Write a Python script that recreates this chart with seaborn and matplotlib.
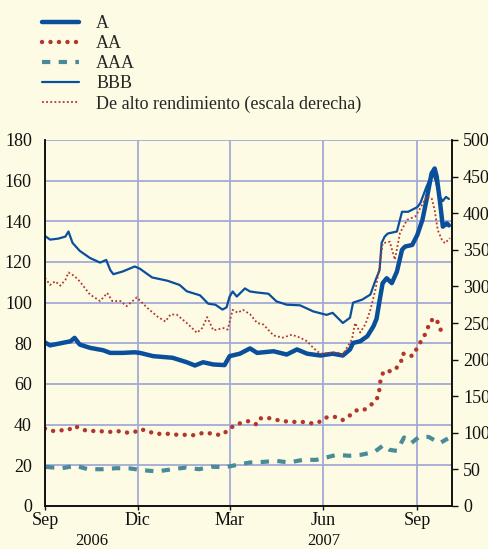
import matplotlib
matplotlib.use("Agg")
import matplotlib.pyplot as plt
from matplotlib.lines import Line2D
import pandas as pd
import seaborn as sns

# ---------------- data ----------------
a_dates = ["2006-09-01", "2006-09-06", "2006-09-16", "2006-09-26", "2006-09-30", "2006-10-05",
           "2006-10-15", "2006-10-28", "2006-11-04", "2006-11-16", "2006-11-28", "2006-12-03",
           "2006-12-16", "2007-01-04", "2007-01-18", "2007-01-26", "2007-02-03", "2007-02-13",
           "2007-02-24", "2007-03-01", "2007-03-11", "2007-03-21", "2007-03-28", "2007-04-13",
           "2007-04-26", "2007-05-06", "2007-05-16", "2007-05-29", "2007-06-10", "2007-06-20",
           "2007-06-27", "2007-06-30", "2007-07-07", "2007-07-14", "2007-07-20", "2007-07-23",
           "2007-07-26", "2007-07-29", "2007-08-02", "2007-08-07", "2007-08-12", "2007-08-17",
           "2007-08-20", "2007-08-27", "2007-09-01", "2007-09-06", "2007-09-10", "2007-09-15",
           "2007-09-18", "2007-09-20", "2007-09-23", "2007-09-26", "2007-09-30", "2007-10-02"]
a_vals = [80.4, 79.0, 80.0, 81.0, 82.7, 79.4,
          77.8, 76.6, 75.3, 75.3, 75.6, 75.3,
          73.7, 72.9, 70.7, 69.1, 70.7, 69.6,
          69.3, 73.7, 74.9, 77.5, 75.3, 76.1,
          74.5, 77.0, 74.9, 74.0, 74.9, 74.0,
          77.0, 80.2, 81.0, 83.5, 88.4, 92.0,
          101.0, 109.6, 112.0, 109.6, 115.3, 126.0,
          127.6, 128.4, 133.3, 140.7, 150.5, 163.6,
          166.0, 162.0, 150.5, 137.4, 139.0, 138.0]

bbb_dates = ["2006-09-01", "2006-09-06", "2006-09-14", "2006-09-21", "2006-09-24", "2006-09-28",
             "2006-10-05", "2006-10-15", "2006-10-25", "2006-10-31", "2006-11-04", "2006-11-07",
             "2006-11-16", "2006-11-28", "2006-12-03", "2006-12-15", "2006-12-30", "2007-01-11",
             "2007-01-18", "2007-01-31", "2007-02-08", "2007-02-15", "2007-02-22", "2007-02-26",
             "2007-03-01", "2007-03-04", "2007-03-08", "2007-03-16", "2007-03-21", "2007-03-28",
             "2007-04-08", "2007-04-16", "2007-04-26", "2007-05-09", "2007-05-22", "2007-06-04",
             "2007-06-10", "2007-06-20", "2007-06-27", "2007-06-30", "2007-07-09", "2007-07-17",
             "2007-07-22", "2007-07-26", "2007-07-28", "2007-07-31", "2007-08-03", "2007-08-12",
             "2007-08-17", "2007-08-23", "2007-09-01", "2007-09-04", "2007-09-10", "2007-09-16",
             "2007-09-19", "2007-09-23", "2007-09-26", "2007-09-29", "2007-10-02"]
bbb_vals = [132.8, 131.0, 131.5, 132.5, 135.0, 129.4,
            125.5, 122.0, 119.7, 121.0, 116.0, 114.0,
            115.3, 117.8, 116.7, 112.4, 110.8, 108.7,
            105.6, 103.6, 99.5, 99.0, 96.6, 97.7,
            103.0, 105.5, 103.0, 107.0, 105.5, 105.0,
            104.4, 100.6, 99.0, 98.7, 95.7, 94.0,
            95.0, 90.0, 92.6, 100.0, 101.5, 104.0,
            111.0, 116.0, 129.4, 132.5, 134.0, 135.0,
            144.7, 144.7, 147.0, 149.0, 157.0, 164.0,
            160.0, 152.0, 150.0, 152.0, 151.0]

aa_dates = ["2006-09-01", "2006-09-08", "2006-09-16", "2006-09-24", "2006-09-30", "2006-10-07",
            "2006-10-13", "2006-10-22", "2006-10-30", "2006-11-06", "2006-11-13", "2006-11-20",
            "2006-11-28", "2006-12-02", "2006-12-10", "2006-12-17", "2006-12-26", "2007-01-02",
            "2007-01-09", "2007-01-17", "2007-01-24", "2007-01-30", "2007-02-07", "2007-02-14",
            "2007-02-22", "2007-02-27", "2007-03-06", "2007-03-13", "2007-03-20", "2007-03-27",
            "2007-03-30", "2007-04-06", "2007-04-14", "2007-04-21", "2007-04-28", "2007-05-06",
            "2007-05-12", "2007-05-20", "2007-05-27", "2007-06-01", "2007-06-06", "2007-06-14",
            "2007-06-20", "2007-06-27", "2007-07-03", "2007-07-10", "2007-07-16", "2007-07-21",
            "2007-07-25", "2007-07-26", "2007-07-27", "2007-07-30", "2007-08-03", "2007-08-08",
            "2007-08-11", "2007-08-16", "2007-08-17", "2007-08-22", "2007-08-27", "2007-08-31",
            "2007-09-04", "2007-09-08", "2007-09-11", "2007-09-14", "2007-09-20", "2007-09-22",
            "2007-09-26", "2007-09-30"]
aa_vals = [38.1, 36.9, 37.2, 37.4, 39.4, 37.7,
           36.9, 36.9, 36.6, 36.4, 36.8, 36.1,
           36.4, 37.7, 37.2, 35.5, 35.5, 35.5,
           35.0, 35.0, 34.8, 35.6, 36.1, 35.1,
           35.0, 37.2, 39.8, 41.0, 41.8, 40.2,
           43.0, 43.5, 42.6, 41.8, 41.5, 41.3,
           41.3, 40.7, 41.0, 43.1, 43.8, 43.8,
           42.3, 44.6, 47.0, 47.0, 49.2, 51.1,
           54.1, 58.2, 62.3, 66.3, 66.3, 66.3,
           67.6, 70.4, 74.8, 75.0, 73.7, 77.0,
           80.5, 83.8, 87.3, 91.2, 92.2, 88.1,
           85.1, 85.6]

aaa_dates = ["2006-09-02", "2006-09-18", "2006-10-01", "2006-10-13", "2006-10-27", "2006-11-10",
             "2006-11-23", "2006-12-06", "2006-12-20", "2007-01-04", "2007-01-17", "2007-01-30",
             "2007-02-11", "2007-02-25", "2007-03-08", "2007-03-21", "2007-04-03", "2007-04-16",
             "2007-04-28", "2007-05-12", "2007-05-25", "2007-06-08", "2007-06-14", "2007-06-26",
             "2007-07-08", "2007-07-21", "2007-07-30", "2007-08-05", "2007-08-12", "2007-08-19",
             "2007-08-26", "2007-09-02", "2007-09-12", "2007-09-23", "2007-10-01"]
aaa_vals = [19.2, 18.6, 19.8, 18.1, 18.1, 18.6,
            18.5, 17.6, 17.0, 18.1, 18.9, 18.1,
            19.3, 19.1, 20.2, 21.4, 21.7, 22.2,
            21.4, 22.7, 22.7, 24.4, 25.2, 24.7,
            25.2, 26.6, 30.0, 27.6, 27.1, 33.7,
            30.9, 33.7, 34.0, 30.9, 33.2]

hy_dates = ["2006-09-01", "2006-09-06", "2006-09-11", "2006-09-16", "2006-09-21", "2006-09-24",
            "2006-09-30", "2006-10-05", "2006-10-15", "2006-10-25", "2006-11-01", "2006-11-06",
            "2006-11-14", "2006-11-20", "2006-11-30", "2006-12-10", "2006-12-20", "2006-12-28",
            "2007-01-02", "2007-01-08", "2007-01-18", "2007-01-28", "2007-02-02", "2007-02-07",
            "2007-02-13", "2007-02-23", "2007-02-27", "2007-03-04", "2007-03-09", "2007-03-14",
            "2007-03-21", "2007-03-28", "2007-04-03", "2007-04-13", "2007-04-22", "2007-05-01",
            "2007-05-09", "2007-05-16", "2007-05-22", "2007-05-29", "2007-06-14", "2007-06-20",
            "2007-06-29", "2007-07-02", "2007-07-07", "2007-07-12", "2007-07-17", "2007-07-22",
            "2007-07-26", "2007-07-29", "2007-08-05", "2007-08-08", "2007-08-10", "2007-08-15",
            "2007-08-22", "2007-08-30", "2007-09-04", "2007-09-10", "2007-09-15", "2007-09-18",
            "2007-09-21", "2007-09-25", "2007-09-28", "2007-10-03"]
hy_vals = [311.6, 302.0, 307.0, 301.0, 309.0, 319.0,
           314.0, 307.0, 289.0, 280.0, 291.0, 280.0,
           280.0, 273.0, 285.0, 271.0, 259.0, 252.0,
           261.6, 261.6, 250.0, 236.6, 243.0, 258.0,
           240.0, 243.0, 241.0, 268.0, 264.0, 268.0,
           262.0, 250.0, 248.0, 233.0, 230.0, 234.0,
           230.0, 225.0, 216.0, 208.0, 210.0, 207.0,
           228.0, 250.0, 237.0, 248.0, 268.0, 296.0,
           327.0, 359.0, 361.0, 346.0, 336.5, 373.0,
           391.0, 395.5, 407.0, 423.0, 420.6, 404.6,
           377.0, 364.0, 359.0, 366.0]

legend_labels = ["A", "AA", "AAA", "BBB", "De alto rendimiento (escala derecha)"]
month_ticks = ["2006-09-01", "2006-12-01", "2007-03-01", "2007-06-01", "2007-09-01"]
month_labels = ["Sep", "Dic", "Mar", "Jun", "Sep"]
year_labels = ["2006", "2007"]
left_ticks = [0, 20, 40, 60, 80, 100, 120, 140, 160, 180]
right_ticks = [0, 50, 100, 150, 200, 250, 300, 350, 400, 450, 500]

# ---------------- styling ----------------
sns.set_theme(style="white")
plt.rcParams['font.family'] = ['Liberation Serif', 'DejaVu Serif']

bg = '#fdfbe3'
blue = '#0a4f9c'
red = '#b3362c'
teal = '#4a8b9a'
gridc = '#a3aad6'

W, H = 489, 549
fig = plt.figure(figsize=(W / 100, H / 100), dpi=100, facecolor=bg)
L, R, T, B = 45, 452, 140, 506
ax = fig.add_axes([L / W, 1 - B / H, (R - L) / W, (B - T) / H])
ax.set_facecolor(bg)
ax2 = ax.twinx()
ax2.patch.set_visible(False)


def frame(d, v):
    return pd.DataFrame({"date": pd.to_datetime(d), "value": v})


df_a = frame(a_dates, a_vals)
df_bbb = frame(bbb_dates, bbb_vals)
df_aa = frame(aa_dates, aa_vals)
df_aaa = frame(aaa_dates, aaa_vals)
df_hy = frame(hy_dates, hy_vals)

style_a = dict(color=blue, linewidth=3.2, solid_joinstyle='round')
style_aa = dict(color=red, linewidth=3.2, linestyle=(0, (0.01, 1.9)), dash_capstyle='round')
style_aaa = dict(color=teal, linewidth=3.0, linestyle=(0, (2.0, 2.0)))
style_bbb = dict(color=blue, linewidth=1.6)
style_hy = dict(color=red, linewidth=1.3, linestyle=(0, (1.0, 1.3)))

sns.lineplot(data=df_aaa, x="date", y="value", ax=ax, estimator=None, **style_aaa)
sns.lineplot(data=df_aa, x="date", y="value", ax=ax, estimator=None, **style_aa)
sns.lineplot(data=df_bbb, x="date", y="value", ax=ax, estimator=None, **style_bbb)
sns.lineplot(data=df_a, x="date", y="value", ax=ax, estimator=None, **style_a)
sns.lineplot(data=df_hy, x="date", y="value", ax=ax2, estimator=None, **style_hy)

ax.set_xlim(pd.Timestamp("2006-09-01"), pd.Timestamp("2007-10-05"))
ax.set_ylim(0, 180)
ax2.set_ylim(0, 500)
ax.set_xlabel("")
ax.set_ylabel("")
ax2.set_xlabel("")
ax2.set_ylabel("")

ax.set_yticks(left_ticks)
ax.set_yticklabels([str(t) for t in left_ticks])
ax2.set_yticks(right_ticks)
ax2.set_yticklabels([str(t) for t in right_ticks])
ax.set_xticks(pd.to_datetime(month_ticks))
ax.set_xticklabels(month_labels)

ax.grid(True, color=gridc, linewidth=1.3)
ax.set_axisbelow(True)

fs = 13
ax.tick_params(axis='y', left=True, length=0, pad=9.5, labelsize=fs, colors='#111111')
ax.tick_params(axis='x', bottom=True, length=3, width=1, direction='out', pad=1.5,
               labelsize=fs, colors='#111111')
ax2.tick_params(axis='y', right=True, length=4, width=1, direction='out', pad=4,
                labelsize=fs, colors='#111111')

for s in ['top']:
    ax.spines[s].set_visible(False)
    ax2.spines[s].set_visible(False)
for a_ in (ax, ax2):
    for s in ['left', 'right', 'bottom']:
        a_.spines[s].set_color('#111111')
        a_.spines[s].set_linewidth(1.2)

# year labels under the month labels (kept fully inside the canvas)
yr_y = 1 - 548.8 / H
for lbl, xpix in zip(year_labels, [92, 324]):
    fig.text(xpix / W, yr_y, lbl, ha='center', va='bottom', fontsize=12, color='#111111')

# legend
handles = [Line2D([], [], **style_a), Line2D([], [], **style_aa), Line2D([], [], **style_aaa),
           Line2D([], [], **style_bbb), Line2D([], [], **style_hy)]
fig.legend(handles, legend_labels, loc='upper left', bbox_to_anchor=(42 / W, 1 - 15 / H),
           frameon=False, fontsize=fs, handlelength=2.05, handletextpad=0.95,
           labelspacing=0.17, borderaxespad=0, borderpad=0)

fig.savefig("out.png", dpi=100, facecolor=bg)
